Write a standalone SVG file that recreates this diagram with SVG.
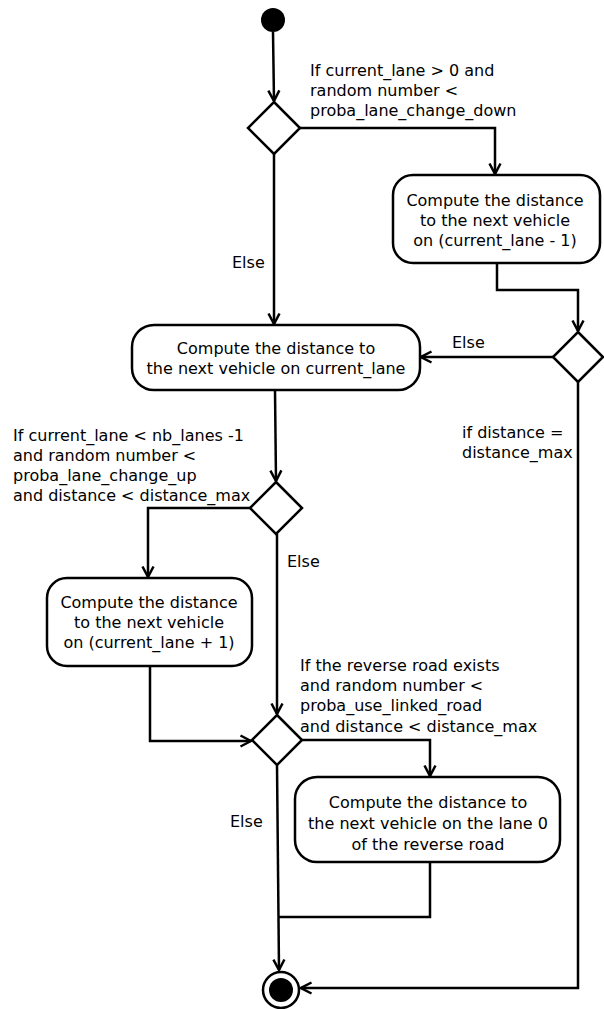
<svg xmlns="http://www.w3.org/2000/svg" width="604" height="1009" viewBox="0 0 604 1009">
<style>
.n{fill:#fff;stroke:#000;stroke-width:2.5}
.c{fill:none;stroke:#000;stroke-width:2.5}
text{font-family:"DejaVu Sans",Verdana,sans-serif;font-size:16px;fill:#000}
.m{text-anchor:middle}
</style>
<defs>
<marker id="a" viewBox="0 0 14 14" markerWidth="14" markerHeight="14" refX="12.5" refY="7" orient="auto" markerUnits="userSpaceOnUse">
<path d="M2,1.5 L12.5,7 L2,12.5" fill="none" stroke="#000" stroke-width="2.5"/>
</marker>
</defs>
<rect width="604" height="1009" fill="#fff"/>
<g id="connectors">
<path class="c" d="M273,32 L274,101" marker-end="url(#a)"/>
<path class="c" d="M300,128 L495,128 L495,174" marker-end="url(#a)"/>
<path class="c" d="M274,154 L274,324" marker-end="url(#a)"/>
<path class="c" d="M497,263 L497,290 L578,290 L578,331" marker-end="url(#a)"/>
<path class="c" d="M553,357 L421,357" marker-end="url(#a)"/>
<path class="c" d="M578,382 L578,988 L301,988" marker-end="url(#a)"/>
<path class="c" d="M275,390 L276,481" marker-end="url(#a)"/>
<path class="c" d="M250,508 L148,508 L148,577" marker-end="url(#a)"/>
<path class="c" d="M277,534 L277,714" marker-end="url(#a)"/>
<path class="c" d="M150,666 L150,741 L251,741" marker-end="url(#a)"/>
<path class="c" d="M302,740 L430,740 L430,776" marker-end="url(#a)"/>
<path class="c" d="M277,765 L279,970" marker-end="url(#a)"/>
<path class="c" d="M430,862 L430,917 L278,917"/>
</g>
<g id="start"><circle cx="273" cy="20" r="12" fill="#000"/></g>
<g id="dec1"><path class="n" d="M274,102 L300,128 L274,154 L248,128 Z"/></g>
<g id="box1">
<rect class="n" x="393" y="175" width="207" height="88" rx="20"/>
<text class="m" x="495" y="206">Compute the distance</text>
<text class="m" x="495" y="226">to the next vehicle</text>
<text class="m" x="495" y="246">on (current_lane - 1)</text>
</g>
<g id="dec2"><path class="n" d="M578,332 L603,357 L578,382 L553,357 Z"/></g>
<g id="box2">
<rect class="n" x="132" y="325" width="288" height="65" rx="22"/>
<text class="m" x="276" y="354">Compute the distance to</text>
<text class="m" x="276" y="374">the next vehicle on current_lane</text>
</g>
<g id="dec3"><path class="n" d="M276,482 L302,508 L276,534 L250,508 Z"/></g>
<g id="box3">
<rect class="n" x="47" y="578" width="205" height="88" rx="20"/>
<text class="m" x="149" y="608">Compute the distance</text>
<text class="m" x="149" y="628">to the next vehicle</text>
<text class="m" x="149" y="648">on (current_lane + 1)</text>
</g>
<g id="dec4"><path class="n" d="M277,715 L302,740 L277,765 L252,740 Z"/></g>
<g id="box4">
<rect class="n" x="295" y="777" width="265" height="85" rx="22"/>
<text class="m" x="428" y="808">Compute the distance to</text>
<text class="m" x="428" y="829">the next vehicle on the lane 0</text>
<text class="m" x="428" y="850">of the reverse road</text>
</g>
<g id="end">
<circle cx="281" cy="990" r="18" fill="#fff" stroke="#000" stroke-width="2.5"/>
<circle cx="281" cy="990" r="12" fill="#000"/>
</g>
<g id="labels">
<text x="310" y="76">If current_lane &gt; 0 and</text>
<text x="310" y="96">random number &lt;</text>
<text x="310" y="116">proba_lane_change_down</text>
<text x="232" y="268">Else</text>
<text x="452" y="348">Else</text>
<text x="462" y="438">if distance =</text>
<text x="462" y="458">distance_max</text>
<text x="13" y="441">If current_lane &lt; nb_lanes -1</text>
<text x="13" y="461">and random number &lt;</text>
<text x="13" y="481">proba_lane_change_up</text>
<text x="13" y="501">and distance &lt; distance_max</text>
<text x="287" y="567">Else</text>
<text x="300" y="671">If the reverse road exists</text>
<text x="300" y="691">and random number &lt;</text>
<text x="300" y="711">proba_use_linked_road</text>
<text x="300" y="732">and distance &lt; distance_max</text>
<text x="230" y="827">Else</text>
</g>
</svg>
